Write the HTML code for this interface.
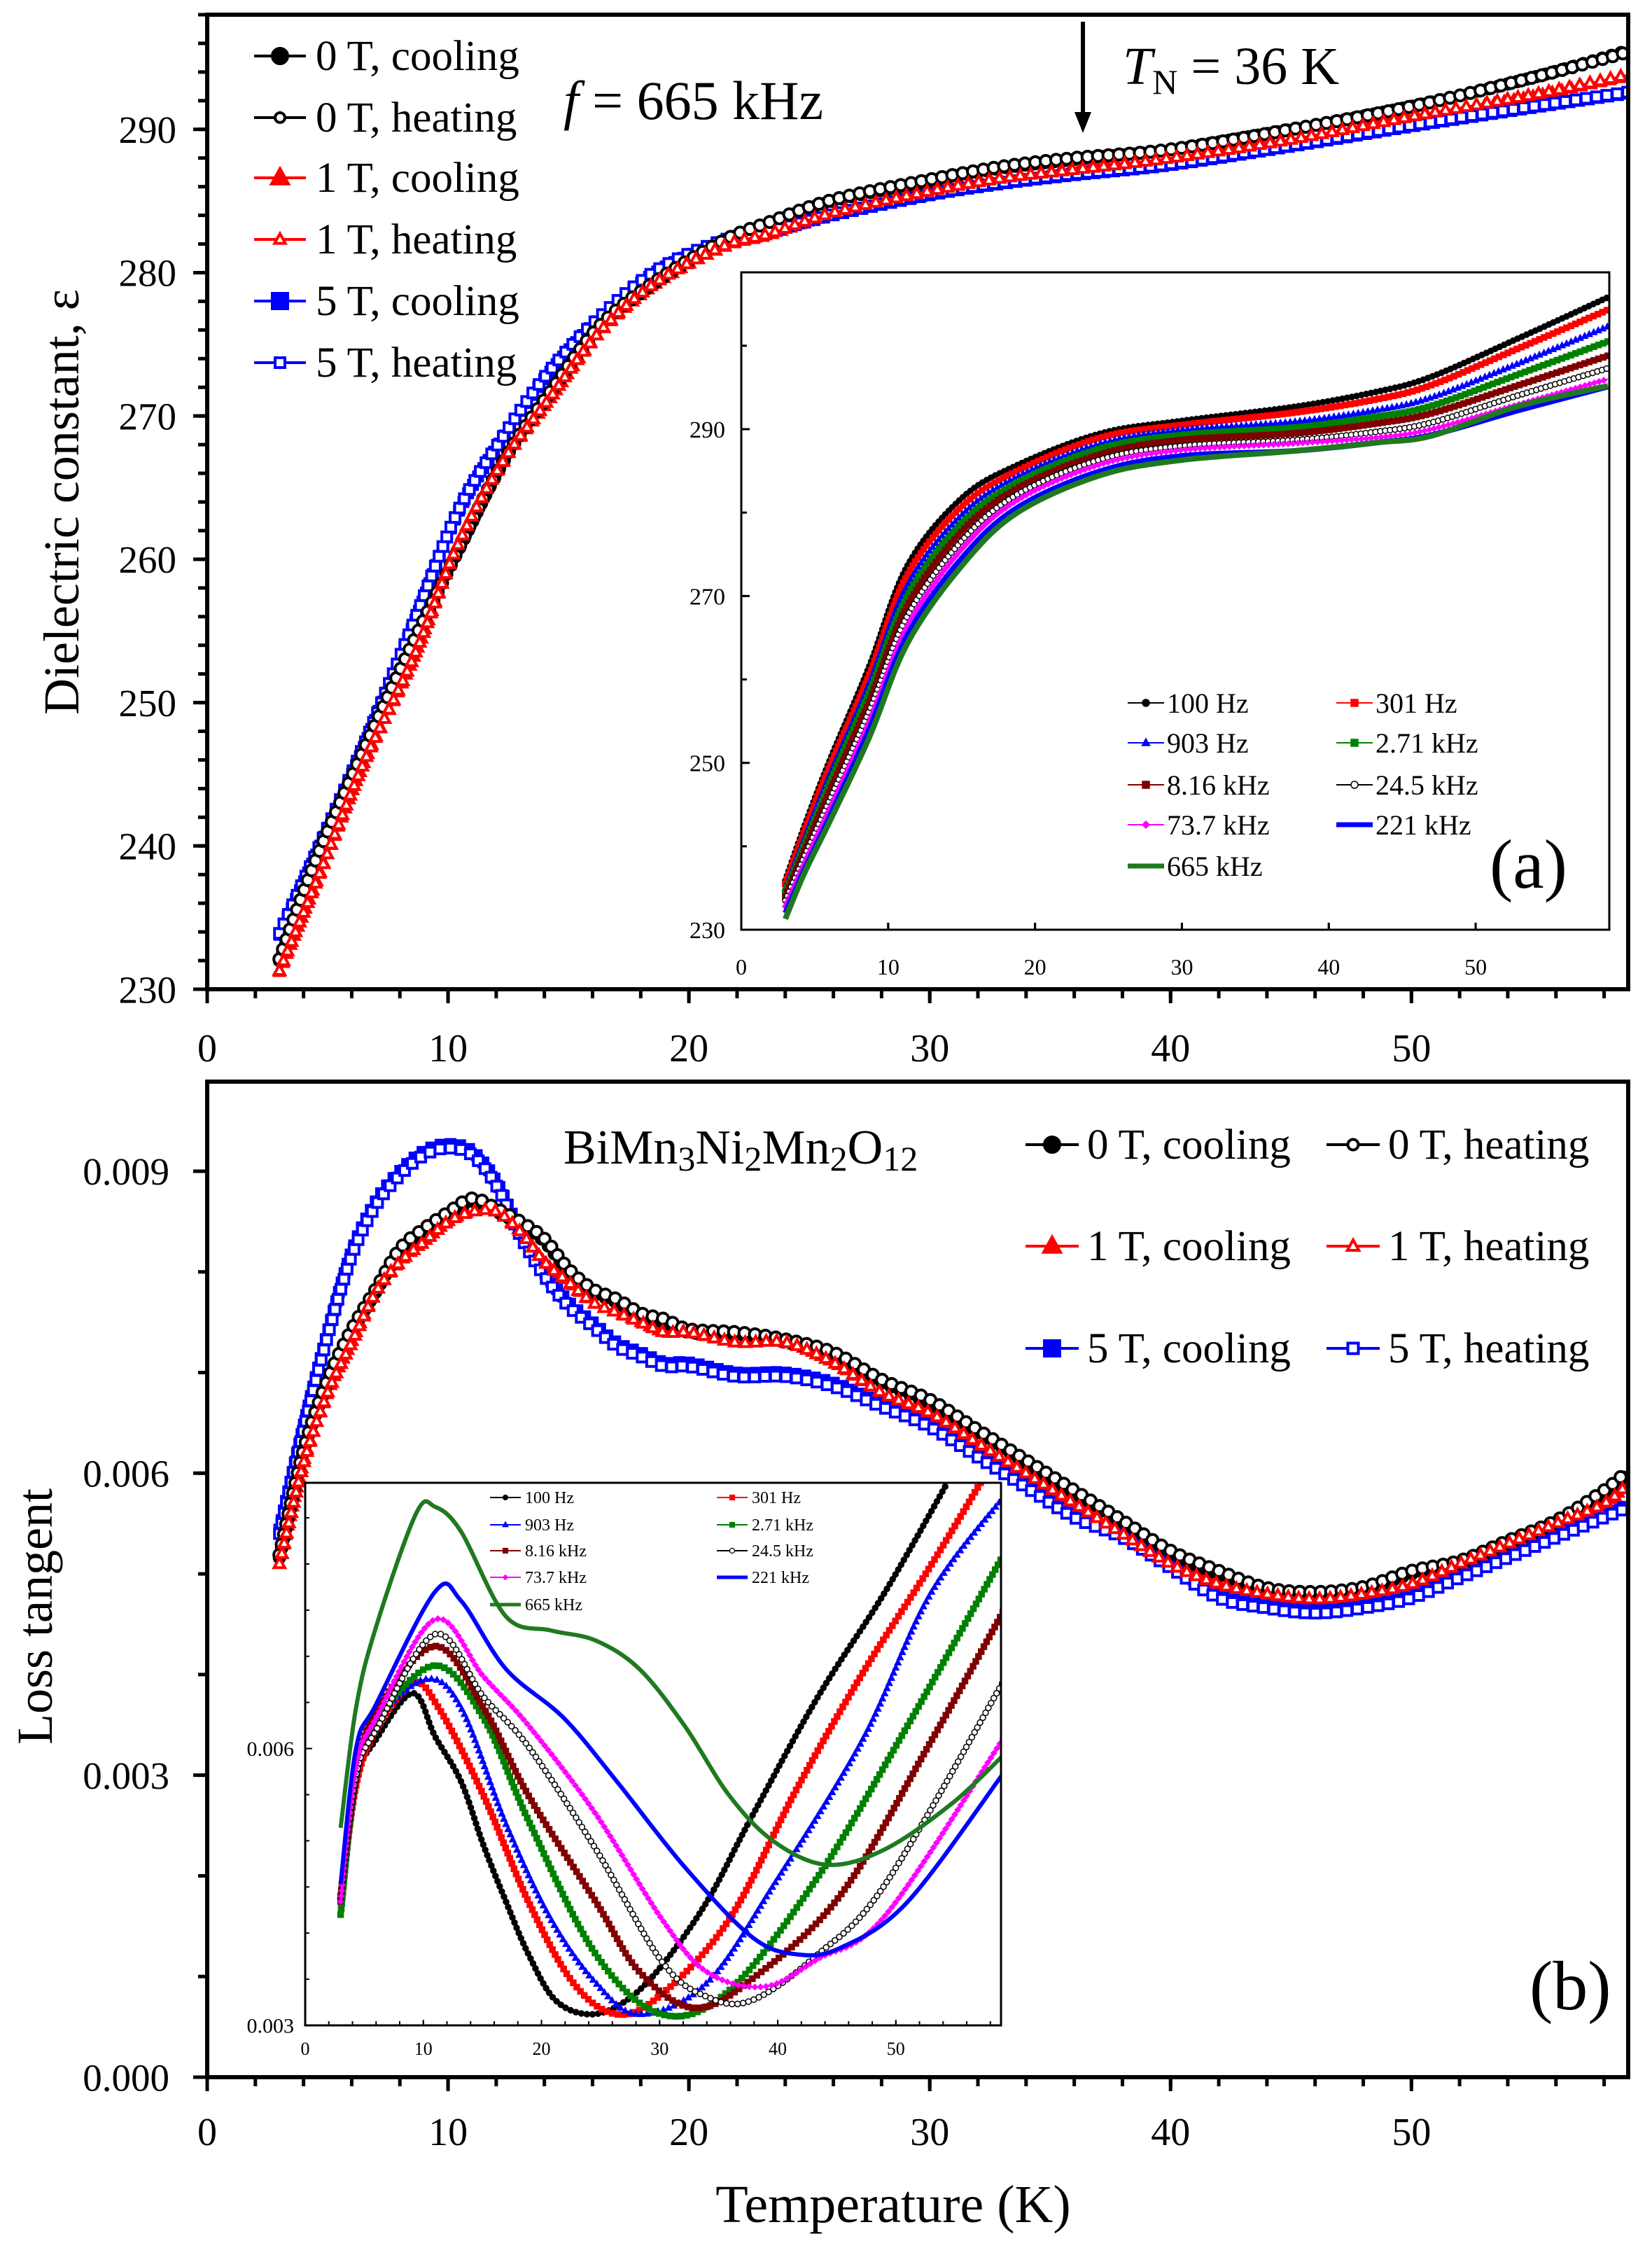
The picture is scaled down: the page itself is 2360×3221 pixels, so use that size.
<!DOCTYPE html>
<html><head><meta charset="utf-8"><style>
html,body{margin:0;padding:0;background:#fff}
svg{display:block;font-family:"Liberation Serif",serif}
svg text{font-family:"Liberation Serif",serif}
</style></head><body>
<svg id="fig" xmlns="http://www.w3.org/2000/svg" width="2360" height="3221" viewBox="0 0 2360 3221" font-family="Liberation Serif, serif">
<rect width="2360" height="3221" fill="#fff"/>
</svg>
<script>
// ---------- Panel (a) main data: dielectric constant ----------
const aT = [3,4.5,6.5,8.6,10.4,12.3,14.2,16.3,18.7,21.5,23.3,26,30,33,36,40,45,50,55,59];
const a0c = [232,238.9,246.6,254.3,260.5,266.8,271.5,276.2,279.4,282.2,283.4,285,286.4,287.3,287.9,288.6,290,291.6,293.6,295.5];
const a0h = [232.1,239,246.7,254.4,260.6,266.9,271.6,276.3,279.5,282.3,283.5,285.1,286.5,287.4,288,288.6,290,291.6,293.6,295.4];
const a1c = [231.2,237.3,245.7,253.2,260.9,266.8,271.1,275.8,279.3,281.8,282.6,284.1,285.6,286.5,287.1,287.9,289.2,290.8,292.3,293.7];
const a1h = [231.3,237.4,245.8,253.3,261,266.9,271.2,275.9,279.4,281.9,282.7,284.2,285.7,286.6,287.2,288,289.3,290.9,292.4,293.8];
const a5c = [233.8,239.3,246.9,255.6,263.2,268.5,273,276.8,280.1,282.2,282.8,284,285.4,286.2,286.8,287.5,288.8,290.2,291.5,292.5];
const a5h = [233.9,239.4,247,255.7,263.3,268.6,273.1,276.9,280.2,282.3,282.9,284.1,285.5,286.3,286.9,287.6,288.9,290.3,291.6,292.6];
const aYTicks = [230,240,250,260,270,280,290];
const xTicks = [0,10,20,30,40,50];

// ---------- Inset (a) data ----------
const iaT = [3,4.3,6,8.7,11.3,15,18.8,24.5,30,37.7,43.3,47,52.8,59];
const ia100 = [235.9,242.4,250.2,261.5,273.6,281.7,285.7,289.5,291.0,292.7,294.5,296.3,300.8,305.8];
const ia301 = [235.5,241.8,249.5,260.5,272.5,280.7,285.0,289.0,290.5,292.0,293.6,295.3,299.6,304.3];
const ia903 = [235.0,241.0,248.5,259.5,271.3,279.7,284.3,288.3,289.9,290.9,292.3,293.8,297.8,302.3];
const ia2k = [234.5,240.2,247.5,258.4,270.0,278.7,283.6,287.7,289.3,290.2,291.5,292.8,296.5,300.5];
const ia8k = [234.0,239.5,246.5,257.3,268.8,277.7,282.9,287.0,288.7,289.5,290.7,291.9,295.2,298.8];
const ia24k = [233.5,238.8,245.5,256.2,267.6,276.6,282.2,286.4,288.0,288.7,289.7,290.8,294.0,297.3];
const ia73k = [232.8,238.0,244.5,255.0,266.4,275.6,281.5,285.8,287.5,288.3,289.0,290.0,292.9,296.0];
const ia221k = [232.0,237.2,243.5,254.0,265.3,274.5,280.6,285.0,286.8,287.4,288.4,289.3,292.2,295.1];
const ia665k = [231.3,236.8,242.9,253.0,264.3,273.6,280.0,284.5,286.3,287.4,288.4,289.2,292.7,295.2];
const iaYTicks = [230,250,270,290];
const iaXTicks = [0,10,20,30,40,50];

// ---------- Panel (b) main data: loss tangent ----------
const bT = [3,4,5,6,7,8,9,10,11,12,13,14,15,16,17,18,19,20,22,24,26,28,30,32,34,36,38,40,42,44,46,48,50,52,54,56,58,59];
const b0 = [0.00516,0.0062,0.0069,0.0074,0.0078,0.0082,0.0084,0.00856,0.0087,0.0086,0.00847,0.0083,0.0080,0.0078,0.0077,0.00756,0.0075,0.0074,0.00737,0.0073,0.00717,0.0069,0.0067,0.0064,0.0061,0.0058,0.0055,0.0052,0.0050,0.00483,0.00479,0.00484,0.0050,0.0051,0.0053,0.0055,0.0058,0.0060];
const b1 = [0.0051,0.0061,0.0068,0.0073,0.0078,0.0081,0.0083,0.0085,0.0086,0.0086,0.0084,0.0081,0.0079,0.0077,0.0076,0.0075,0.0074,0.0074,0.0073,0.0073,0.0071,0.0068,0.0066,0.0063,0.0060,0.0057,0.0054,0.0051,0.0049,0.0048,0.00475,0.0048,0.0049,0.0051,0.0053,0.0055,0.0057,0.0059];
const b5 = [0.00544,0.00647,0.0074,0.0082,0.0087,0.0090,0.0092,0.00927,0.0092,0.0089,0.0084,0.0080,0.0077,0.0075,0.0073,0.0072,0.0071,0.0071,0.0070,0.0070,0.0069,0.0067,0.0065,0.0062,0.0059,0.0056,0.0054,0.0051,0.0048,0.0047,0.00465,0.0047,0.0048,0.0050,0.0052,0.0054,0.0056,0.0057];
const bYTicks = [0,0.003,0.006,0.009];
const bYLabels = ["0.000","0.003","0.006","0.009"];

// ---------- Inset (b) data (each frequency has its own temperature samples) ----------
const ib100T = [3,4.3,6,9.1,11,13.2,15.1,17,18.9,21.2,24.2,27.2,30.2,34,37.8,43.4,49.1,54.4];
const ib100 = [0.00434,0.00564,0.0061,0.0066,0.00613,0.00564,0.00495,0.00434,0.00377,0.00327,0.00312,0.00327,0.00365,0.00434,0.00526,0.00656,0.0077,0.00889];
const ib301T = [3,4.3,6,9.1,11.3,15.1,18.9,22.7,26.4,30.2,35.9,41.6,47.2,52.9,57.4];
const ib301 = [0.00434,0.0056,0.0062,0.00671,0.00644,0.00549,0.00434,0.00346,0.00312,0.00334,0.00415,0.00556,0.00682,0.00797,0.00893];
const ib903T = [3,4.3,6,10.2,13.2,17,20.8,24.6,28.3,34,39.7,47.2,52.9,59.2];
const ib903 = [0.0044,0.0057,0.0063,0.00675,0.00644,0.00518,0.00415,0.00346,0.00312,0.00346,0.00453,0.0061,0.00767,0.00874];
const ib2kT = [3,4.3,6,11,15.1,18.9,24.6,30.2,35.9,43.4,51,59.2];
const ib2k = [0.0042,0.0057,0.0063,0.0069,0.00633,0.00522,0.00377,0.00312,0.00338,0.00461,0.00625,0.00812];
const ib8kT = [3,4.3,6,11,15.1,18.9,24.6,28.3,32.9,37.8,45.3,52.9,59.2];
const ib8k = [0.0044,0.0057,0.0064,0.00711,0.00644,0.00549,0.00434,0.00358,0.00319,0.0035,0.00441,0.00606,0.00751];
const ib24kT = [3,4.3,6,11,15.1,18.9,24.6,30.2,34,37.8,43.4,49.1,59.2];
const ib24k = [0.00434,0.0057,0.0062,0.00724,0.00656,0.00602,0.00491,0.00369,0.00331,0.00327,0.00377,0.00453,0.00675];
const ib73kT = [3,4.3,6,11,15.1,18.9,24.6,30.2,34,38.9,43.4,49.1,59.2];
const ib73k = [0.00434,0.0058,0.00633,0.0074,0.00678,0.00625,0.00529,0.00415,0.00358,0.00342,0.00372,0.00419,0.00613];
const ib221kT = [3,4.3,6,11,13.2,17,21.9,26.4,32.1,37.8,41.6,45.3,51,59.2];
const ib221k = [0.00453,0.0060,0.00648,0.0077,0.0076,0.00686,0.00633,0.00564,0.00472,0.00396,0.00377,0.00384,0.00434,0.00575];
const ib665kT = [3,4.3,6,9.4,11,13.2,17,20.8,24.6,28.3,32.1,35.9,39.7,44.2,49.1,54.8,59.2];
const ib665k = [0.00514,0.00644,0.00732,0.00855,0.00862,0.00835,0.00743,0.00728,0.00717,0.00686,0.00625,0.00549,0.00499,0.00474,0.00491,0.00541,0.00594];
const ibYTicks = [0.003,0.006];
const ibYLabels = ["0.003","0.006"];

const NS = "http://www.w3.org/2000/svg";
const svg = document.getElementById('fig');
function el(tag, attrs, parent){const e=document.createElementNS(NS,tag);for(const k in attrs)e.setAttribute(k,attrs[k]);(parent||svg).appendChild(e);return e;}

const A = {x0:296,x1:2326,t0:0,t1:59,y0:1413,y1:21,v0:230,v1:298};
const B = {x0:296,x1:2326,t0:0,t1:59,y0:2967,y1:1545,v0:0,v1:0.00989};
const IA = {x0:1059,x1:2299,t0:0,t1:59.1,y0:1328,y1:389,v0:230,v1:308.8};
const IB = {x0:436,x1:1430,t0:0,t1:58.9,y0:2893,y1:2118,v0:0.003,v1:0.00888};
function sx(ax,t){return ax.x0+(t-ax.t0)/(ax.t1-ax.t0)*(ax.x1-ax.x0);}
function sy(ax,v){return ax.y0-(v-ax.v0)/(ax.v1-ax.v0)*(ax.y0-ax.y1);}

function marker(g,type,x,y,color,filled,s,sw){
  if(type==='circle'){el('circle',{cx:x,cy:y,r:s/2,fill:filled?color:'#fff',stroke:color,'stroke-width':sw},g);}
  else if(type==='square'){el('rect',{x:x-s/2,y:y-s/2,width:s,height:s,fill:filled?color:'#fff',stroke:color,'stroke-width':sw},g);}
  else if(type==='triangle'){el('polygon',{points:`${x},${y-s*0.6} ${x-s*0.55},${y+s*0.4} ${x+s*0.55},${y+s*0.4}`,fill:filled?color:'#fff',stroke:color,'stroke-width':sw},g);}
  else if(type==='diamond'){el('polygon',{points:`${x},${y-s/2} ${x-s/2},${y} ${x},${y+s/2} ${x+s/2},${y}`,fill:filled?color:'#fff',stroke:color,'stroke-width':sw},g);}
}

// smooth path (Catmull-Rom -> cubic Bezier) through mapped data points
function smoothPath(P){
  let d='M'+P[0][0].toFixed(1)+','+P[0][1].toFixed(1);
  for(let i=0;i<P.length-1;i++){
    const p0=P[Math.max(0,i-1)],p1=P[i],p2=P[i+1],p3=P[Math.min(P.length-1,i+2)];
    const c1=[p1[0]+(p2[0]-p0[0])/6,p1[1]+(p2[1]-p0[1])/6];
    const c2=[p2[0]-(p3[0]-p1[0])/6,p2[1]-(p3[1]-p1[1])/6];
    d+='C'+c1[0].toFixed(1)+','+c1[1].toFixed(1)+' '+c2[0].toFixed(1)+','+c2[1].toFixed(1)+' '+p2[0].toFixed(1)+','+p2[1].toFixed(1);
  }
  return d;
}

function series(name,ax,T,V,color,lw,mtype,filled,ms,msw,spacing,clip){
  const g=el('g',clip?{'clip-path':clip}:{});
  
  
  const P=T.map((t,i)=>[sx(ax,t),sy(ax,V[i])]);
  const p=el('path',{d:smoothPath(P),fill:'none',stroke:color,'stroke-width':lw,'stroke-linejoin':'round'},g);
  
  
  if(mtype){
    const L=p.getTotalLength();
    for(let s=0;s<=L;s+=spacing){const pt=p.getPointAtLength(s);marker(g,mtype,pt.x,pt.y,color,filled,ms,msw);}
  }
  return g;
}

function text(str,x,y,size,anchor,extra,name){
  const t=el('text',Object.assign({x:x,y:y,'font-size':size,'text-anchor':anchor||'start',fill:'#000','font-family':'Liberation Serif, serif'},extra||{}));
  t.textContent=str;
  
  
  return t;
}

function frame(ax,name,lw){
  const r=el('rect',{x:ax.x0,y:ax.y1,width:ax.x1-ax.x0,height:ax.y0-ax.y1,fill:'#fff',stroke:'#000','stroke-width':lw});
  
  
}
function frameOutline(ax,lw){el('rect',{x:ax.x0,y:ax.y1,width:ax.x1-ax.x0,height:ax.y0-ax.y1,fill:'none',stroke:'#000','stroke-width':lw});}

function xAxis(ax,ticks,minorStep,labelY,fs,major,minor,lw,name){
  for(let t=ax.t0;t<=ax.t1+1e-6;t+=minorStep){el('line',{x1:sx(ax,t),y1:ax.y0,x2:sx(ax,t),y2:ax.y0+minor,stroke:'#000','stroke-width':lw});}
  ticks.forEach(t=>{el('line',{x1:sx(ax,t),y1:ax.y0,x2:sx(ax,t),y2:ax.y0+major,stroke:'#000','stroke-width':lw});
    text(String(t),sx(ax,t),labelY,fs,'middle',{},name+'-tick-label');});
}
function yAxis(ax,ticks,labels,minorStep,labelX,fs,major,minor,lw,name){
  for(let v=ax.v0;v<=ax.v1+1e-9;v+=minorStep){el('line',{x1:ax.x0,y1:sy(ax,v),x2:ax.x0-minor,y2:sy(ax,v),stroke:'#000','stroke-width':lw});}
  ticks.forEach((v,i)=>{el('line',{x1:ax.x0,y1:sy(ax,v),x2:ax.x0-major,y2:sy(ax,v),stroke:'#000','stroke-width':lw});
    text(labels[i],labelX,sy(ax,v)+fs*0.35,fs,'end',{},name+'-tick-label');});
}

const defs=el('defs',{});
function clip(id,ax){const c=el('clipPath',{id:id},defs);el('rect',{x:ax.x0,y:ax.y1,width:ax.x1-ax.x0,height:ax.y0-ax.y1},c);}
clip('ca',A);clip('cb',B);clip('cia',IA);clip('cib',IB);

// ================= PANEL A =================
frame(A,'panel-a-plot-area',6);
series('series-a-5T-cooling',A,aT,a5c,'#0000ff',4,'square',true,14,3,14,'url(#ca)');
series('series-a-1T-cooling',A,aT,a1c,'#ff0000',4,'triangle',true,14,3,14,'url(#ca)');
series('series-a-0T-cooling',A,aT,a0c,'#000',4,'circle',true,16,3,14,'url(#ca)');
series('series-a-5T-heating',A,aT,a5h,'#0000ff',3,'square',false,14,4,15,'url(#ca)');
series('series-a-0T-heating',A,aT,a0h,'#000',3,'circle',false,16,4,15,'url(#ca)');
series('series-a-1T-heating',A,aT,a1h,'#ff0000',3,'triangle',false,14,4,15,'url(#ca)');
frameOutline(A,6);
xAxis(A,xTicks,2,1516,56,20,13,5,'x-axis-a');
yAxis(A,aYTicks,aYTicks.map(String),2,252,55,20,13,5,'y-axis-a');
text('Dielectric constant, ε',0,0,72,'middle',{transform:'translate(112,717) rotate(-90)'},'y-axis-title-a');

const legA=[['0 T, cooling','#000','circle',true],['0 T, heating','#000','circle',false],['1 T, cooling','#ff0000','triangle',true],['1 T, heating','#ff0000','triangle',false],['5 T, cooling','#0000ff','square',true],['5 T, heating','#0000ff','square',false]];
const legAY=[80,168,254,342,430,518];
legA.forEach((e,i)=>{const g=el('g',{});
  
  
  el('line',{x1:363,y1:legAY[i],x2:437,y2:legAY[i],stroke:e[1],'stroke-width':4},g);
  marker(g,e[2],400,legAY[i],e[1],e[3],e[3]?22:14,4);
  g.appendChild(text(e[0],451,legAY[i]+20,61,'start',{},'legend-label-a'));});

const ft=text('',805,170,78,'start',{},'frequency-label');
ft.innerHTML='<tspan font-style="italic">f</tspan> = 665 kHz';
const arr=el('g',{});


el('line',{x1:1547,y1:31,x2:1547,y2:165,stroke:'#000','stroke-width':6},arr);
el('polygon',{points:'1535,160 1559,160 1547,190',fill:'#000'},arr);
const tn=text('',1604,120,76,'start',{},'neel-temperature-label');
tn.innerHTML='<tspan font-style="italic">T</tspan><tspan font-size="50" dy="14">N</tspan><tspan dy="-14"> = 36 K</tspan>';

// ---- inset a ----
frame(IA,'inset-a-plot-area',3);
const iaSeries=[['100Hz',ia100,'#000','circle',true,2],['301Hz',ia301,'#ff0000','square',true,2],['903Hz',ia903,'#0000ff','triangle',true,2],['2.71kHz',ia2k,'#008000','square',true,2],['8.16kHz',ia8k,'#800000','square',true,2],['24.5kHz',ia24k,'#000','circle',false,2],['73.7kHz',ia73k,'#ff00ff','diamond',true,2],['221kHz',ia221k,'#0000ff',null,false,8],['665kHz',ia665k,'#1f7a1f',null,false,8]];
iaSeries.forEach(s=>{series('inset-a-series-'+s[0],IA,iaT,s[1],s[2],s[5],s[3],s[4],8,1.5,7,'url(#cia)');});
frameOutline(IA,3);
xAxis(IA,iaXTicks,10,1392,32,-10,-10,3,'inset-a-x');
yAxis(IA,iaYTicks,iaYTicks.map(String),10,1036,34,-12,-8,3,'inset-a-y');
const legIA=[['100 Hz','#000','circle',true,2],['301 Hz','#ff0000','square',true,2],['903 Hz','#0000ff','triangle',true,2],['2.71 kHz','#008000','square',true,2],['8.16 kHz','#800000','square',true,2],['24.5 kHz','#000','circle',false,2],['73.7 kHz','#ff00ff','diamond',true,2],['221 kHz','#0000ff',null,false,7],['665 kHz','#1f7a1f',null,false,7]];
const legIARows=[1004,1061,1121,1178,1237];
legIA.forEach((e,i)=>{const col=i%2,row=Math.floor(i/2);const x=col?1909:1611;const y=legIARows[row];
  const g=el('g',{});
  
  
  el('line',{x1:x,y1:y,x2:x+52,y2:y,stroke:e[1],'stroke-width':e[4]},g);
  if(e[2])marker(g,e[2],x+26,y,e[1],e[3],10,1.5);
  g.appendChild(text(e[0],x+56,y+14,40,'start',{},'inset-a-legend-label'));});
text('(a)',2128,1268,100,'start',{},'panel-a-label');

// ================= PANEL B =================
frame(B,'panel-b-plot-area',6);
series('series-b-5T-cooling',B,bT,b5,'#0000ff',4,'square',true,14,3,14,'url(#cb)');
series('series-b-1T-cooling',B,bT,b1,'#ff0000',4,'triangle',true,14,3,14,'url(#cb)');
series('series-b-0T-cooling',B,bT,b0,'#000',4,'circle',true,16,3,14,'url(#cb)');
series('series-b-5T-heating',B,bT,b5.map(v=>v-0.00004),'#0000ff',3,'square',false,14,4,15,'url(#cb)');
series('series-b-0T-heating',B,bT,b0.map(v=>v+0.00003),'#000',3,'circle',false,16,4,15,'url(#cb)');
series('series-b-1T-heating',B,bT,b1,'#ff0000',3,'triangle',false,14,4,15,'url(#cb)');
frameOutline(B,6);
xAxis(B,xTicks,2,3064,56,20,13,5,'x-axis-b');
yAxis(B,bYTicks,bYLabels,0.001,242,55,20,13,5,'y-axis-b');
text('Loss tangent',0,0,72,'middle',{transform:'translate(74,2309) rotate(-90)'},'y-axis-title-b');
text('Temperature (K)',1276,3174,76,'middle',{},'x-axis-title');
const chem=text('',805,1662,70,'start',{},'compound-label');
chem.innerHTML='BiMn<tspan font-size="50" dy="10">3</tspan><tspan dy="-10">Ni</tspan><tspan font-size="50" dy="10">2</tspan><tspan dy="-10">Mn</tspan><tspan font-size="50" dy="10">2</tspan><tspan dy="-10">O</tspan><tspan font-size="50" dy="10">12</tspan>';

const legB=[['0 T, cooling','#000','circle',true,1465,1635],['0 T, heating','#000','circle',false,1895,1635],['1 T, cooling','#ff0000','triangle',true,1465,1780],['1 T, heating','#ff0000','triangle',false,1895,1780],['5 T, cooling','#0000ff','square',true,1465,1926],['5 T, heating','#0000ff','square',false,1895,1926]];
legB.forEach((e,i)=>{const g=el('g',{});
  
  
  el('line',{x1:e[4],y1:e[5],x2:e[4]+76,y2:e[5],stroke:e[1],'stroke-width':4},g);
  marker(g,e[2],e[4]+38,e[5],e[1],e[3],e[3]?22:15,4);
  g.appendChild(text(e[0],e[4]+88,e[5]+20,61,'start',{},'legend-label-b'));});

// ---- inset b ----
frame(IB,'inset-b-plot-area',3);
const ibSeries=[['100Hz',ib100T,ib100,'#000','circle',true,2],['301Hz',ib301T,ib301,'#ff0000','square',true,2],['903Hz',ib903T,ib903,'#0000ff','triangle',true,2],['2.71kHz',ib2kT,ib2k,'#008000','square',true,2],['8.16kHz',ib8kT,ib8k,'#800000','square',true,2],['24.5kHz',ib24kT,ib24k,'#000','circle',false,2],['73.7kHz',ib73kT,ib73k,'#ff00ff','diamond',true,3],['221kHz',ib221kT,ib221k,'#0000ff',null,false,6],['665kHz',ib665kT,ib665k,'#1f7a1f',null,false,6]];
ibSeries.forEach(s=>{series('inset-b-series-'+s[0],IB,s[1],s[2],s[3],s[6],s[4],s[5],8,1.5,8,'url(#cib)');});
frameOutline(IB,3);
xAxis(IB,iaXTicks,2,2935,26,-8,-6,2,'inset-b-x');
yAxis(IB,ibYTicks,ibYLabels,0.0005,420,30,-10,-6,2,'inset-b-y');
const legIB=[['100 Hz','#000','circle',true,2],['301 Hz','#ff0000','square',true,2],['903 Hz','#0000ff','triangle',true,2],['2.71 kHz','#008000','square',true,2],['8.16 kHz','#800000','square',true,2],['24.5 kHz','#000','circle',false,2],['73.7 kHz','#ff00ff','diamond',true,2],['221 kHz','#0000ff',null,false,5],['665 kHz','#1f7a1f',null,false,5]];
const legIBRows=[2139,2178,2215,2253,2292];
legIB.forEach((e,i)=>{const col=i%2,row=Math.floor(i/2);const x=col?1024:700;const y=legIBRows[row];
  const g=el('g',{});
  
  
  el('line',{x1:x,y1:y,x2:x+44,y2:y,stroke:e[1],'stroke-width':e[4]},g);
  if(e[2])marker(g,e[2],x+22,y,e[1],e[3],7,1.2);
  g.appendChild(text(e[0],x+50,y+8,24,'start',{},'inset-b-legend-label'));});
text('(b)',2185,2870,100,'start',{},'panel-b-label');
</script>
</body></html>
